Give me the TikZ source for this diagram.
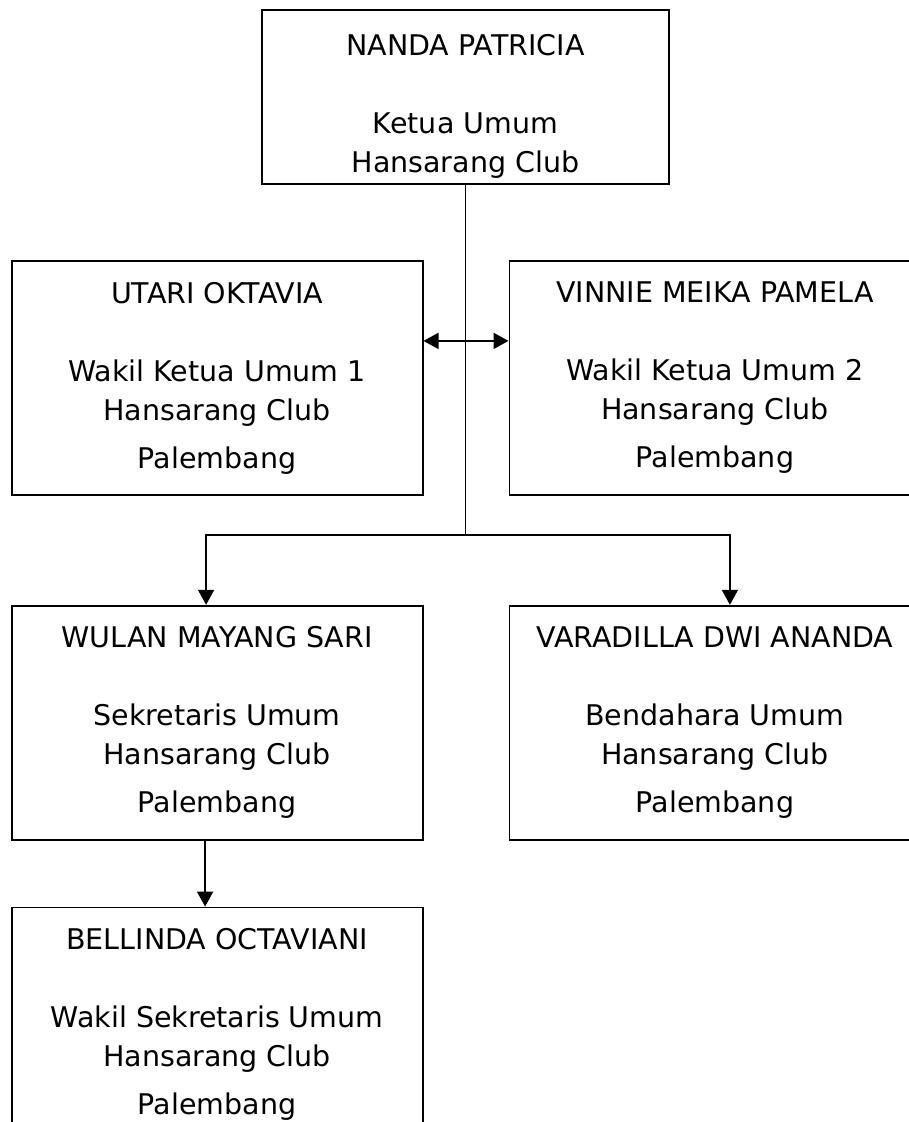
\documentclass[tikz,border=0pt]{standalone}
\usepackage{fontspec}
\setmainfont{DejaVu Sans}
\usepackage{tikz}
\usetikzlibrary{arrows.meta,positioning}

\begin{document}
\begin{tikzpicture}[x=1pt, y=1pt, node distance=85pt and 85pt,
  every node/.style={font=\fontsize{28.5}{39}\selectfont},
  box/.style={draw, line width=1.8pt, align=center, inner sep=0pt,
    minimum width=411pt, minimum height=234pt},
  arr/.style={line width=1.8pt, -{Triangle[length=15pt,width=16pt]}},
  dblarr/.style={line width=1.8pt, {Triangle[length=15pt,width=16pt]}-{Triangle[length=15pt,width=16pt]}}]
\useasboundingbox (0,0) rectangle (909,-1122);
\node[box, minimum width=407pt, minimum height=174pt] (ketua) at (465.5,-97)
  {\rule{0pt}{39pt}NANDA PATRICIA\\[39pt]Ketua Umum\\Hansarang Club};
\node[box, anchor=north west] (utari) at (10.7,-260)
  {UTARI OKTAVIA\\[39pt]Wakil Ketua Umum 1\\Hansarang Club\\[9pt]Palembang};
\node[box, right=of utari] (vinnie)
  {VINNIE MEIKA PAMELA\\[39pt]Wakil Ketua Umum 2\\Hansarang Club\\[9pt]Palembang};
\node[box, below=109pt of utari] (wulan)
  {WULAN MAYANG SARI\\[39pt]Sekretaris Umum\\Hansarang Club\\[9pt]Palembang};
\node[box, right=of wulan] (vara)
  {VARADILLA DWI ANANDA\\[39pt]Bendahara Umum\\Hansarang Club\\[9pt]Palembang};
\node[box, below=66pt of wulan] (bellinda)
  {BELLINDA OCTAVIANI\\[39pt]Wakil Sekretaris Umum\\Hansarang Club\\[9pt]Palembang};
\coordinate[below=350pt of ketua.south] (split);
\draw[line width=1.8pt] (ketua.south) -- (split);
\draw[arr] (split) -| ([xshift=-11pt]wulan.north);
\draw[arr] (split) -| ([xshift=15pt]vara.north);
\draw[dblarr] ([yshift=37pt]utari.east) -- ([yshift=37pt]vinnie.west);
\draw[arr] ([xshift=-12pt]wulan.south) -- ([xshift=-12pt]bellinda.north);
\end{tikzpicture}
\end{document}
